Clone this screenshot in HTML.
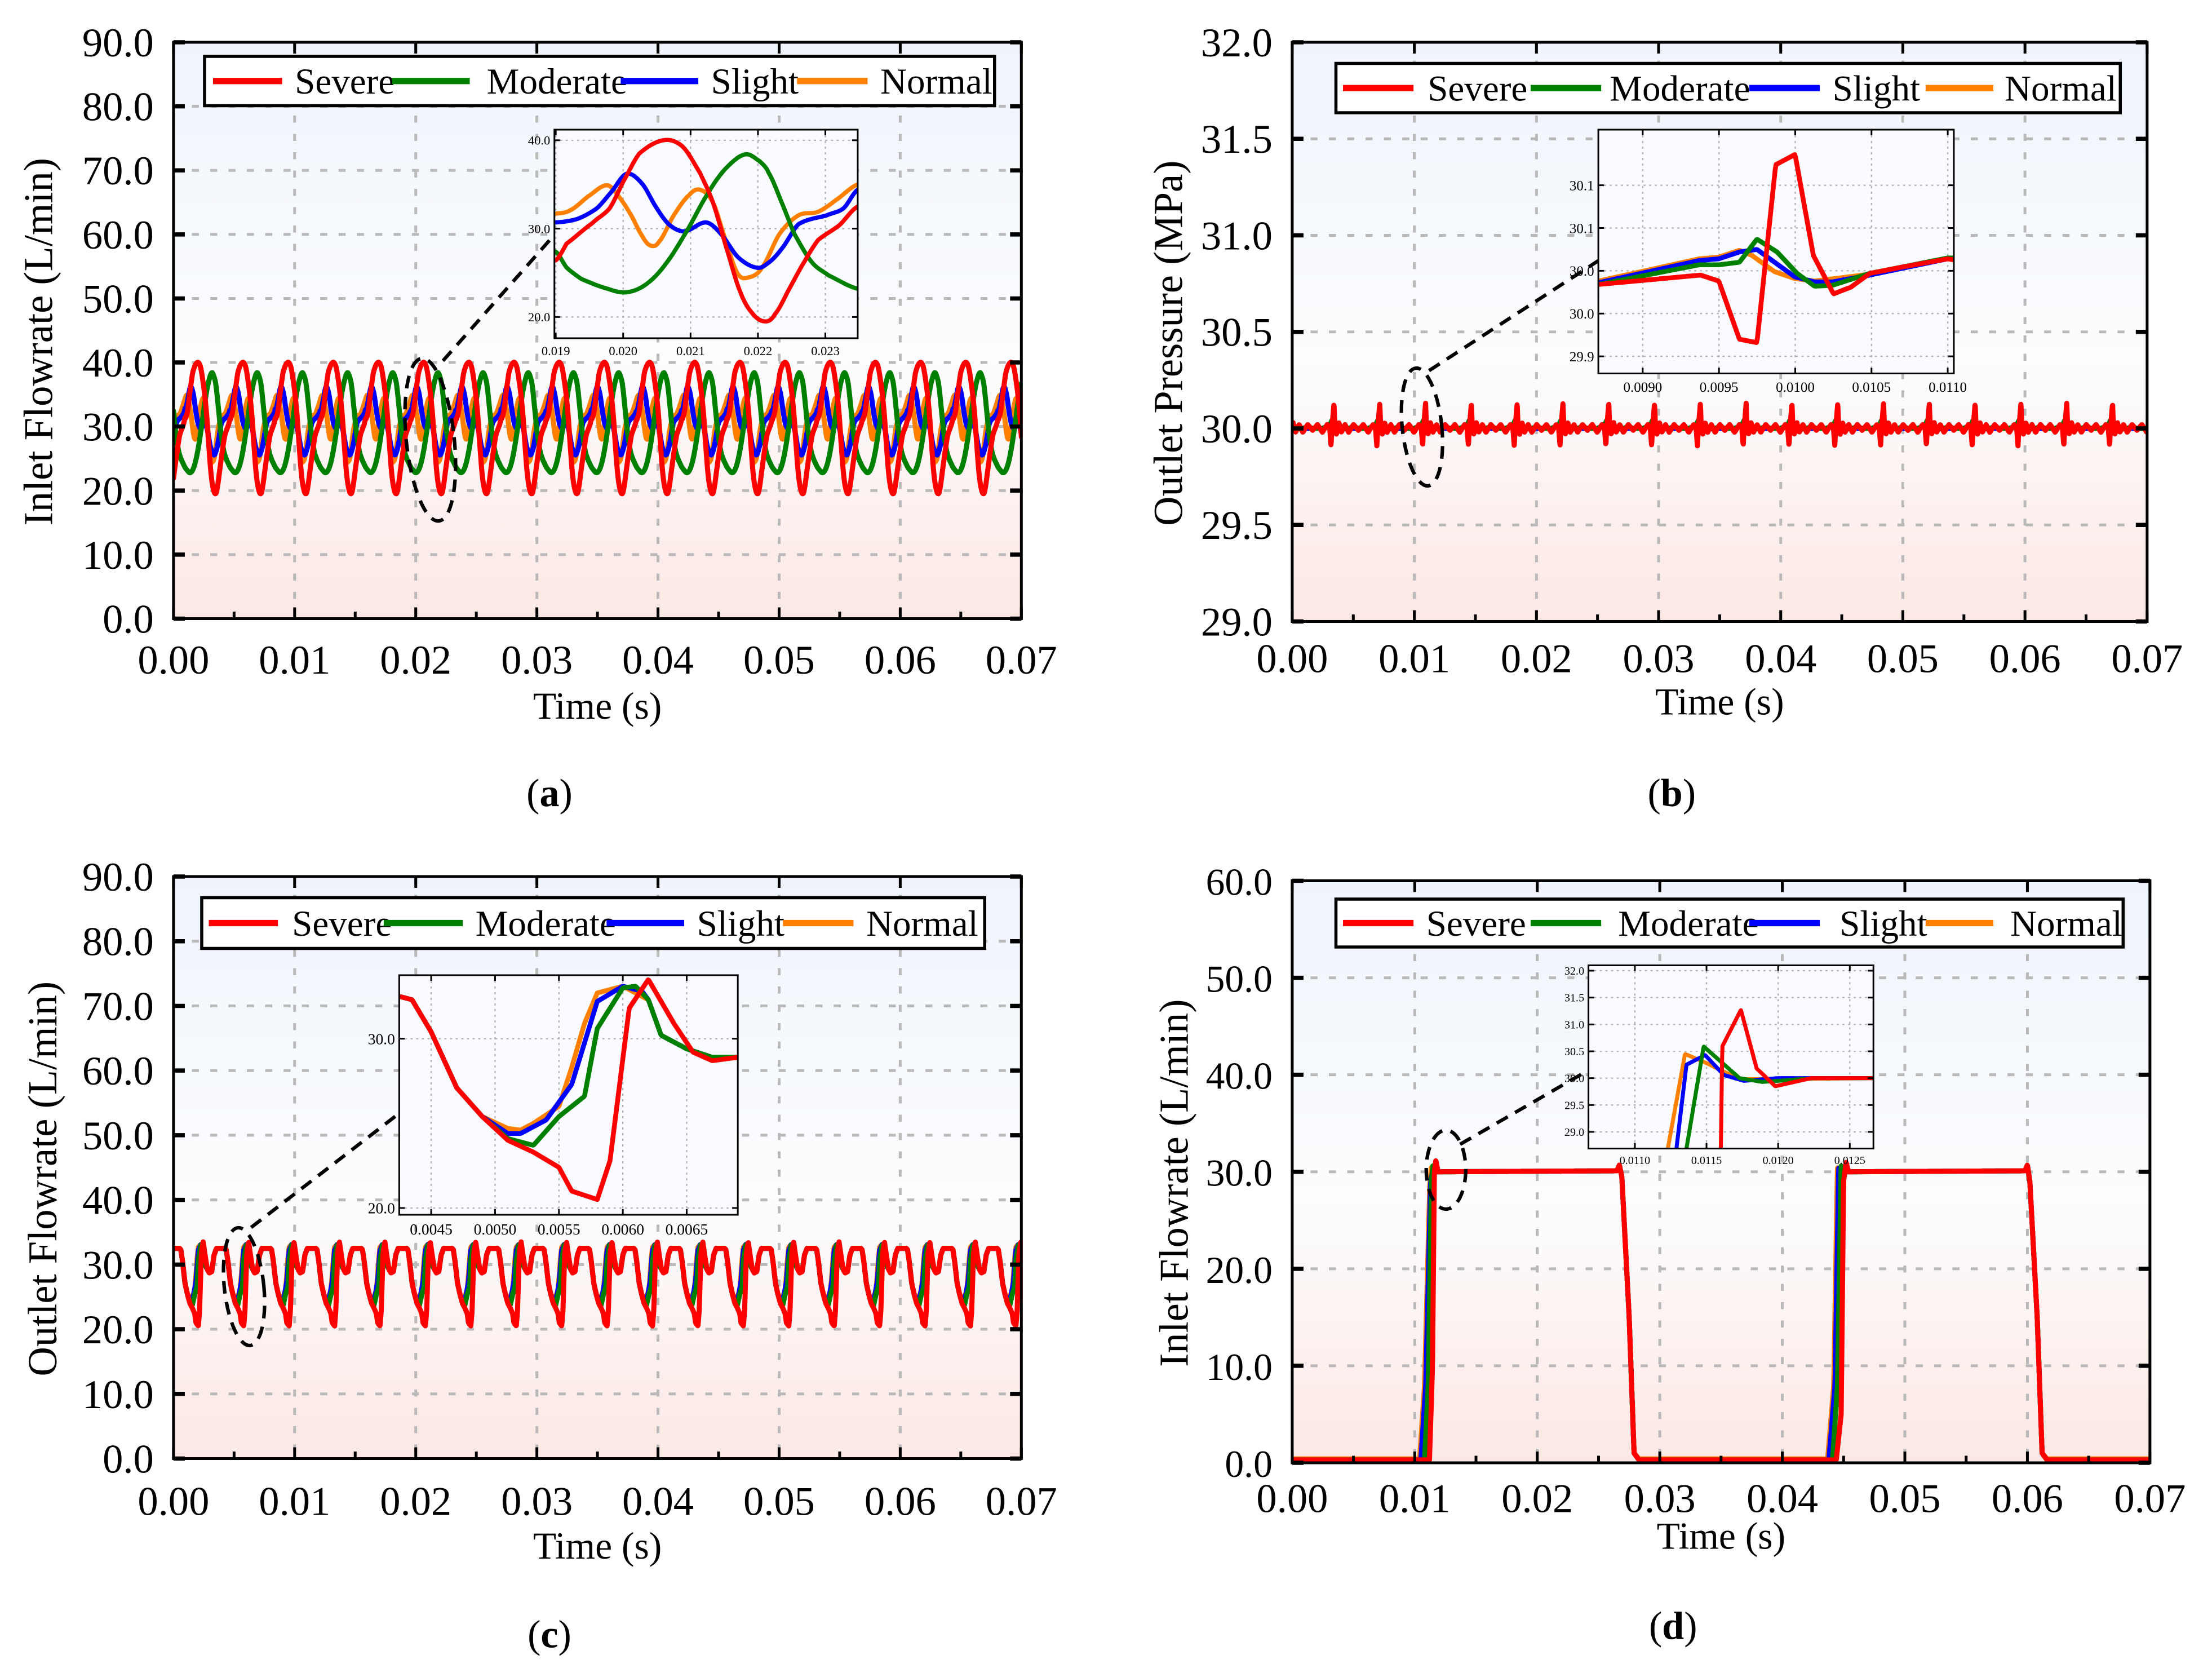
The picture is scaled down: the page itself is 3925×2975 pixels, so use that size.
<!DOCTYPE html>
<html><head><meta charset="utf-8"><title>Hydraulic pump fault signals</title>
<style>
html,body{margin:0;padding:0;background:#fff;}
svg{display:block;font-family:"Liberation Serif","DejaVu Serif",serif;}
</style></head>
<body>
<svg id="fig" xmlns="http://www.w3.org/2000/svg" viewBox="0 0 1568 1190" width="3925" height="2975" preserveAspectRatio="none">
<defs>
<linearGradient id="bgGrad" x1="0" y1="0" x2="0" y2="1">
<stop offset="0" stop-color="#eff4fc"/><stop offset="0.55" stop-color="#fcfdfe"/><stop offset="1" stop-color="#fce7e3"/>
</linearGradient>
</defs>
<rect x="0" y="0" width="1568" height="1190" fill="#ffffff"/>
</svg>
<script>
// ================= DATA =================
const seriesNames=['Severe','Moderate','Slight','Normal'];
const seriesColors=['#ff0000','#008000','#0000ff','#ff8000'];
const timeTicks=[0,0.01,0.02,0.03,0.04,0.05,0.06,0.07];
const timeTickLabels=['0.00','0.01','0.02','0.03','0.04','0.05','0.06','0.07'];
const flowTicks90=[0,10,20,30,40,50,60,70,80,90];
const flowTickLabels90=['0.0','10.0','20.0','30.0','40.0','50.0','60.0','70.0','80.0','90.0'];
const presTicks=[29,29.5,30,30.5,31,31.5,32];
const presTickLabels=['29.0','29.5','30.0','30.5','31.0','31.5','32.0'];
const flowTicks60=[0,10,20,30,40,50,60];
const flowTickLabels60=['0.0','10.0','20.0','30.0','40.0','50.0','60.0'];

// Panel (a)
const aPeriod=0.00373;
const aCycleStart=0.0196;
const aRedT=[0.019,0.01916,0.01954,0.0198,0.0200,0.02024,0.0206,0.02088,0.02114,0.02133,0.02152,0.02174,0.02193,0.02211,0.02225,0.02248,0.0227,0.02289,0.02321,0.02348];
const aRedV=[26.4,28.3,30.6,32.3,35.3,38.5,40,39.3,36.3,33,28.1,22.8,20.3,19.5,20.3,23.4,26.4,28.7,30.4,32.5];
const aGreenT=[0.019,0.01916,0.01938,0.01977,0.02005,0.02034,0.02063,0.02095,0.02126,0.02152,0.02181,0.02203,0.02216,0.02235,0.02254,0.0228,0.02305,0.02348];
const aGreenV=[27.4,25.6,24.3,23.2,22.8,23.7,26,29.8,34,36.8,38.4,37.6,36.3,33,29.4,26.2,24.7,23.2];
const aBlueT=[0.019,0.01932,0.01961,0.01983,0.02005,0.02028,0.0205,0.02069,0.02091,0.02123,0.02145,0.0217,0.02197,0.02213,0.02235,0.0226,0.02302,0.02327,0.02348];
const aBlueV=[30.7,31.1,32.3,34.2,36.2,35.1,32.3,30.4,29.7,30.7,29.4,26.8,25.6,26,27.7,30.5,31.5,32.3,34.4];
const aOrangeT=[0.019,0.01922,0.01951,0.01977,0.01996,0.02012,0.02028,0.0204,0.02053,0.02075,0.02098,0.02114,0.02133,0.02152,0.0217,0.02187,0.02206,0.02232,0.0226,0.02289,0.02315,0.02348];
const aOrangeV=[31.7,32.1,33.8,34.9,33.4,31.5,29.2,28.1,28.5,31.5,33.8,34.4,33,28.7,24.9,24.5,25.6,29.4,31.5,31.9,33.2,35];
const aInsetXTicks=[0.019,0.020,0.021,0.022,0.023];
const aInsetXLabels=['0.019','0.020','0.021','0.022','0.023'];
const aInsetYTicks=[20,30,40];
const aInsetYLabels=['20.0','30.0','40.0'];

// Panel (b)
const bPeriod=0.00375;
const bFirstSpike=0.00342;
const bCycleDt=[0,0.00008,0.0002,0.0004,0.0006,0.0009,0.0012,0.0016,0.002,0.0024,0.0028,0.0032,0.0034,0.00351,0.00357,0.00375];
const bRedCycle=[30.13,30.0,29.97,30.03,29.98,30.02,29.98,30.02,29.99,30.02,29.98,30.02,30.0,29.91,29.99,30.13];
const bGreenCycle=[30.03,30.0,29.98,30.01,29.99,30.0,30.0,30.01,30.0,30.0,30.0,30.01,30.02,30.03,30.04,30.03];
const bBlueCycle=[30.03,30.0,29.98,30.01,29.99,30.0,30.0,30.0,30.0,30.0,30.0,30.01,30.02,30.03,30.04,30.03];
const bOrangeCycle=[30.03,30.0,29.98,30.0,29.99,30.0,30.0,30.0,30.0,30.0,30.0,30.01,30.02,30.03,30.04,30.03];
const bInsetRedT=[0.008709,0.009379,0.009499,0.009634,0.009749,0.009872,0.009999,0.010119,0.010251,0.010366,0.010489,0.01072,0.0110,0.011033];
const bInsetRedV=[30.034,30.045,30.038,29.970,29.966,30.174,30.186,30.068,30.023,30.031,30.047,30.055,30.064,30.063];
const bInsetGreenT=[0.008709,0.00937,0.009499,0.009634,0.009749,0.009881,0.010012,0.010127,0.010243,0.010489,0.0110];
const bInsetGreenV=[30.034,30.057,30.057,30.060,30.087,30.072,30.047,30.032,30.033,30.047,30.065];
const bInsetBlueT=[0.008709,0.00937,0.009499,0.009634,0.009749,0.009996,0.010127,0.010243,0.010489,0.0110];
const bInsetBlueV=[30.036,30.062,30.064,30.072,30.075,30.043,30.037,30.037,30.045,30.064];
const bInsetOrangeT=[0.008709,0.00937,0.009499,0.009634,0.009716,0.009864,0.009996,0.010127,0.010489,0.0110];
const bInsetOrangeV=[30.038,30.064,30.066,30.074,30.068,30.049,30.041,30.038,30.046,30.064];
const bInsetXTicks=[0.0090,0.0095,0.0100,0.0105,0.0110];
const bInsetXLabels=['0.0090','0.0095','0.0100','0.0105','0.0110'];
const bInsetYTicks=[29.95,30.0,30.05,30.1,30.15];
const bInsetYLabels=['29.9','30.0','30.0','30.1','30.1'];

// Panel (c)
const cPeriod=0.00375;
const cFirstPeak=0.00245;
const cRedDt=[0,0.0002,0.00035,0.0005,0.0007,0.0009,0.0011,0.0018,0.0019,0.00205,0.00225,0.00245,0.00265,0.00285,0.00305,0.00315,0.00335,0.00345,0.0036,0.00375];
const cRedV=[33.5,30.9,29.2,28.7,28.9,31.5,32.5,32.5,32.3,30.4,27.1,25.4,24,23.3,22.4,21,20.5,22.8,31.8,33.5];
const cGreenDt=[0,0.0001,0.0003,0.0005,0.0007,0.0009,0.0011,0.0018,0.0019,0.00205,0.00225,0.00245,0.00265,0.00285,0.00305,0.00325,0.00335,0.00355,0.00365,0.00375];
const cGreenV=[32.3,30.2,29.4,28.9,28.9,31.5,32.5,32.5,32.3,30.4,27.1,25.4,24.1,23.7,25.4,26.6,30.6,33,33.1,32.3];
const cBlueDt=[0,0.0001,0.0003,0.0005,0.0007,0.0009,0.0011,0.0018,0.0019,0.00205,0.00225,0.00245,0.00265,0.00275,0.00295,0.00315,0.00335,0.00355,0.0037,0.00375];
const cBlueV=[32.3,30.2,29.4,28.9,28.9,31.5,32.5,32.5,32.3,30.4,27.1,25.4,24.4,24.4,25.2,27.3,32.2,33.1,32.8,32.3];
const cOrangeDt=[0,0.0001,0.0003,0.0005,0.0007,0.0009,0.0011,0.0018,0.0019,0.00205,0.00225,0.00245,0.00265,0.00275,0.00285,0.00305,0.00315,0.00325,0.00335,0.00355,0.00375];
const cOrangeV=[32.3,30.2,29.4,28.9,28.9,31.5,32.5,32.5,32.3,30.4,27.1,25.4,24.7,24.6,25,26,28.3,30.9,32.7,33.1,32.3];
const cInsetXTicks=[0.0045,0.0050,0.0055,0.0060,0.0065];
const cInsetXLabels=['0.0045','0.0050','0.0055','0.0060','0.0065'];
const cInsetYTicks=[20,30];
const cInsetYLabels=['20.0','30.0'];

// Panel (d)
const dRedT=[0,0.0112,0.01145,0.0116,0.01172,0.0119,0.0265,0.0267,0.0269,0.0275,0.0279,0.0283,0.0444,0.0448,0.0450,0.0452,0.0454,0.0598,0.0600,0.0602,0.0608,0.0612,0.0616,0.07];
const dRedV=[0.3,0.3,10,30,31.2,30,30.1,30.7,29.5,15,1,0.3,0.3,5,29,31,30,30.1,30.7,29,15,1,0.3,0.3];
const dGreenT=[0,0.0108,0.0111,0.01136,0.01148,0.0117,0.0265,0.0267,0.0269,0.0275,0.0279,0.0283,0.0441,0.0445,0.0448,0.0450,0.0598,0.0600,0.0602,0.0608,0.0612,0.0616,0.07];
const dGreenV=[0.3,0.3,8,28.7,30.6,30,30.1,30.7,29.5,15,1,0.3,0.3,8,30.6,30,30.1,30.7,29,15,1,0.3,0.3];
const dBlueT=[0,0.0105,0.0109,0.01129,0.01149,0.0117,0.0265,0.0267,0.0269,0.0275,0.0279,0.0283,0.0438,0.0443,0.0446,0.0448,0.0598,0.0600,0.0602,0.0608,0.0612,0.0616,0.07];
const dBlueV=[0.3,0.3,8,28.7,30.4,30,30.1,30.7,29.5,15,1,0.3,0.3,8,30.4,30,30.1,30.7,29,15,1,0.3,0.3];
const dOrangeT=[0,0.0104,0.0108,0.01123,0.01135,0.0117,0.0265,0.0267,0.0269,0.0275,0.0279,0.0283,0.0437,0.0442,0.0445,0.0447,0.0598,0.0600,0.0602,0.0608,0.0612,0.0616,0.07];
const dOrangeV=[0.4,0.4,8,28.7,30.45,30,30.1,30.7,29.5,15,1,0.4,0.4,8,30.45,30,30.1,30.7,29,15,1,0.4,0.4];
const dInsetRedT=[0.01159,0.0116,0.01161,0.01174,0.01185,0.01198,0.01223,0.01268];
const dInsetRedV=[27,28.69,30.59,31.27,30.18,29.85,30.0,30.0];
const dInsetGreenT=[0.01132,0.01136,0.01148,0.01173,0.01189,0.01226,0.01268];
const dInsetGreenV=[27,28.69,30.59,30.0,29.93,30.0,30.0];
const dInsetBlueT=[0.01126,0.01129,0.01136,0.01149,0.01162,0.01176,0.012,0.01268];
const dInsetBlueV=[27,28.69,30.25,30.43,30.06,29.95,30.0,30.0];
const dInsetOrangeT=[0.01119,0.01123,0.01135,0.0115,0.01173,0.01194,0.01268];
const dInsetOrangeV=[27,28.69,30.45,30.28,29.98,29.98,30.0];
const dInsetXTicks=[0.0110,0.0115,0.0120,0.0125];
const dInsetXLabels=['0.0110','0.0115','0.0120','0.0125'];
const dInsetYTicks=[29.0,29.5,30.0,30.5,31.0,31.5,32.0];
const dInsetYLabels=['29.0','29.5','30.0','30.5','31.0','31.5','32.0'];

// ================= HELPERS =================
const NS='http://www.w3.org/2000/svg';
const svg=document.getElementById('fig');
function E(tag,parent,at){const e=document.createElementNS(NS,tag);if(at){for(const k in at)e.setAttribute(k,at[k]);}parent.appendChild(e);return e;}
function lin(ts,vs,t){if(t<=ts[0])return vs[0];for(let i=1;i<ts.length;i++){if(t<=ts[i]){const f=(t-ts[i-1])/(ts[i]-ts[i-1]);return vs[i-1]+f*(vs[i]-vs[i-1]);}}return vs[vs.length-1];}
function cr(ts,vs,t){
  if(t<=ts[0])return vs[0];if(t>=ts[ts.length-1])return vs[vs.length-1];
  let i=1;while(ts[i]<t)i++;
  const t1=ts[i-1],t2=ts[i],f=(t-t1)/(t2-t1);
  const p0=vs[Math.max(0,i-2)],p1=vs[i-1],p2=vs[i],p3=vs[Math.min(vs.length-1,i+1)];
  return 0.5*((2*p1)+(-p0+p2)*f+(2*p0-5*p1+4*p2-p3)*f*f+(-p0+3*p1-3*p2+p3)*f*f*f);
}
function mod(a,b){return ((a%b)+b)%b;}
let clipN=0;
function scale(L){return {x:t=>L.x0+(t-L.xmin)/(L.xmax-L.xmin)*(L.x1-L.x0), y:v=>L.yb-(v-L.ymin)/(L.ymax-L.ymin)*(L.yb-L.yt)};}
function clipFor(L){const id='clip'+(clipN++);const cp=E('clipPath',svg.querySelector('defs'),{id:id});E('rect',cp,{x:L.x0,y:L.yt,width:L.x1-L.x0,height:L.yb-L.yt});return id;}
function drawSeries(parent,L,fn,tmin,tmax,n,color,width,name){
  const S=scale(L);let pts=[];
  for(let i=0;i<=n;i++){const t=tmin+(tmax-tmin)*i/n;pts.push(S.x(t).toFixed(2)+','+S.y(fn(t)).toFixed(2));}
  const pl=E('polyline',parent,{points:pts.join(' '),fill:'none',stroke:color,'stroke-width':width,'stroke-linejoin':'round','stroke-linecap':'round'});
  
  
  return pl;
}
function mainPanel(id,L,yTicks,yLabels,yTitle,off){
  const S=scale(L);
  const g=E('g',svg);
  
  
  const bg=E('rect',g,{x:L.x0,y:L.yt,width:L.x1-L.x0,height:L.yb-L.yt,fill:'url(#bgGrad)'});
  
  
  const grid=E('g',g,{stroke:'#b9b9b9','stroke-width':2,'stroke-dasharray':'5 8'});
  
  
  timeTicks.forEach((t,i)=>{if(i>0&&i<timeTicks.length-1)E('line',grid,{x1:S.x(t),x2:S.x(t),y1:L.yt,y2:L.yb});});
  yTicks.forEach((v,i)=>{if(i>0&&i<yTicks.length-1)E('line',grid,{x1:L.x0,x2:L.x1,y1:S.y(v),y2:S.y(v)});});
  const series=E('g',g,{'clip-path':'url(#'+clipFor(L)+')'});
  
  
  const axes=E('g',g);
  
  
  timeTicks.forEach((t,i)=>{
    const tx=E('text',axes,{x:S.x(t),y:L.yb+off.xl,'font-size':29,'text-anchor':'middle',fill:'#000'});tx.textContent=timeTickLabels[i];
    
    
  });
  yTicks.forEach((v,i)=>{
    const tx=E('text',axes,{x:L.x0-14,y:S.y(v)+10,'font-size':off.yfs||29,'text-anchor':'end',fill:'#000'});tx.textContent=yLabels[i];
    
    
  });
  const xt=E('text',axes,{x:(L.x0+L.x1)/2,y:L.yb+off.xt,'font-size':27,'text-anchor':'middle'});xt.textContent='Time (s)';
  
  
  const cy=(L.yt+L.yb)/2+8;
  const yt=E('text',axes,{x:L.x0-off.yt,y:cy,'font-size':29,'text-anchor':'middle',transform:'rotate(-90 '+(L.x0-off.yt)+' '+cy+')'});yt.textContent=yTitle;
  
  
  const lt=E('text',axes,{x:(L.x0+L.x1)/2-34,y:L.yb+off.lt,'font-size':28,'text-anchor':'middle'});
  lt.innerHTML='(<tspan font-weight="bold">'+id+'</tspan>)';
  
  
  return {g,series,axes,S,finish:()=>{
    const fr=E('g',g,{stroke:'#000','stroke-width':2});
    
    
    E('rect',fr,{x:L.x0,y:L.yt,width:L.x1-L.x0,height:L.yb-L.yt,fill:'none'});
    timeTicks.forEach(t=>{E('line',fr,{x1:S.x(t),x2:S.x(t),y1:L.yb,y2:L.yb-8});E('line',fr,{x1:S.x(t),x2:S.x(t),y1:L.yt,y2:L.yt+8});});
    for(let i=0;i<timeTicks.length-1;i++){const m=(timeTicks[i]+timeTicks[i+1])/2;E('line',fr,{x1:S.x(m),x2:S.x(m),y1:L.yb,y2:L.yb-5});}
    yTicks.forEach(v=>{E('line',fr,{x1:L.x0,x2:L.x0+8,y1:S.y(v),y2:S.y(v),'stroke-width':3});E('line',fr,{x1:L.x1,x2:L.x1-8,y1:S.y(v),y2:S.y(v),'stroke-width':3});});
  }};
}
function legend(parent,id,box,items){
  const g=E('g',parent);
  
  
  E('rect',g,{x:box[0],y:box[1],width:box[2]-box[0],height:box[3]-box[1],fill:'#fff',stroke:'#000','stroke-width':2.2});
  const cy=(box[1]+box[3])/2;
  items.forEach((it,i)=>{
    const e=E('g',g);
    
    
    E('line',e,{x1:it[0],x2:it[1],y1:cy,y2:cy,stroke:seriesColors[i],'stroke-width':4.5});
    const tx=E('text',e,{x:it[2],y:cy+9,'font-size':26});tx.textContent=seriesNames[i];
  });
}
function inset(parent,id,L,xT,xL,yT,yL,fs){
  const S=scale(L);
  const g=E('g',parent);
  
  
  E('rect',g,{x:L.x0,y:L.yt,width:L.x1-L.x0,height:L.yb-L.yt,fill:'#f9fbfe'});
  const gr=E('g',g,{stroke:'#b0b0b0','stroke-width':0.9,'stroke-dasharray':'1.5 2.5'});
  xT.forEach(t=>E('line',gr,{x1:S.x(t),x2:S.x(t),y1:L.yt,y2:L.yb}));
  yT.forEach(v=>E('line',gr,{x1:L.x0,x2:L.x1,y1:S.y(v),y2:S.y(v)}));
  const ser=E('g',g,{'clip-path':'url(#'+clipFor(L)+')'});
  const lab=E('g',g,{'font-size':fs});
  xT.forEach((t,i)=>{const tx=E('text',lab,{x:S.x(t),y:L.yb+fs+3,'text-anchor':'middle'});tx.textContent=xL[i];});
  yT.forEach((v,i)=>{const tx=E('text',lab,{x:L.x0-3,y:S.y(v)+fs*0.35,'text-anchor':'end'});tx.textContent=yL[i];});
  return {S,ser,finish:()=>{
    const fr=E('g',g,{stroke:'#000','stroke-width':1.2});
    E('rect',fr,{x:L.x0,y:L.yt,width:L.x1-L.x0,height:L.yb-L.yt,fill:'none'});
    xT.forEach(t=>{E('line',fr,{x1:S.x(t),x2:S.x(t),y1:L.yb,y2:L.yb-4});E('line',fr,{x1:S.x(t),x2:S.x(t),y1:L.yt,y2:L.yt+4});});
    yT.forEach(v=>{E('line',fr,{x1:L.x0,x2:L.x0+4,y1:S.y(v),y2:S.y(v)});E('line',fr,{x1:L.x1,x2:L.x1-4,y1:S.y(v),y2:S.y(v)});});
  }};
}
function callout(parent,id,ell,line){
  const g=E('g',parent,{fill:'none',stroke:'#000','stroke-width':2.5,'stroke-dasharray':'9 6'});
  
  
  E('ellipse',g,{cx:ell[0],cy:ell[1],rx:ell[2],ry:ell[3],transform:'rotate('+ell[4]+' '+ell[0]+' '+ell[1]+')'});
  E('line',g,{x1:line[0],y1:line[1],x2:line[2],y2:line[3]});
}
const MW=3.6;

// ================= PANEL A =================
(function(){
  const L={x0:123,x1:724,yb:439,yt:30,xmin:0,xmax:0.07,ymin:0,ymax:90};
  const P=mainPanel('a',L,flowTicks90,flowTickLabels90,'Inlet Flowrate (L/min)',{xl:39,xt:71,lt:133,yt:86});
  const sets=[[aRedT,aRedV],[aGreenT,aGreenV],[aBlueT,aBlueV],[aOrangeT,aOrangeV]];
  const order=[3,2,1,0];
  order.forEach(i=>{const [T,V]=sets[i];drawSeries(P.series,L,t=>cr(T,V,aCycleStart+mod(t-aCycleStart,aPeriod)),0,0.07,1400,seriesColors[i],MW,'line-'+seriesNames[i].toLowerCase());});
  P.finish();
  legend(P.g,'a',[145,40,705,75],[[151,200,209],[278,333,345],[440,495,504],[565,615,624]]);
  callout(P.g,'a',[305,312,17,58,-6],[314,256,390,170]);
  const IL={x0:393,x1:608,yt:92,yb:240,xmin:0.01898,xmax:0.02348,ymin:17.6,ymax:41.2};
  const I=inset(P.g,'a',IL,aInsetXTicks,aInsetXLabels,aInsetYTicks,aInsetYLabels,9);
  order.forEach(i=>{const [T,V]=sets[i];drawSeries(I.ser,IL,t=>cr(T,V,t),0.01898,0.02348,300,seriesColors[i],3,'inset-line-'+seriesNames[i].toLowerCase());});
  I.finish();
})();

// ================= PANEL B =================
(function(){
  const L={x0:916,x1:1522,yb:441,yt:30,xmin:0,xmax:0.07,ymin:29,ymax:32};
  const P=mainPanel('b',L,presTicks,presTickLabels,'Outlet Pressure (MPa)',{xl:36,xt:66,lt:131,yt:78});
  const cyc=[bRedCycle,bGreenCycle,bBlueCycle,bOrangeCycle];
  [3,2,1,0].forEach(i=>{drawSeries(P.series,L,t=>lin(bCycleDt,cyc[i],mod(t-bFirstSpike,bPeriod)),0,0.07,3000,seriesColors[i],MW,'line-'+seriesNames[i].toLowerCase());});
  P.finish();
  legend(P.g,'b',[947,45,1503,80],[[952,1002,1012],[1085,1135,1141],[1240,1290,1299],[1365,1413,1421]]);
  callout(P.g,'b',[1008,303,14,42,-6],[1013,263,1133,185]);
  const IL={x0:1133,x1:1385,yt:92,yb:265,xmin:0.008709,xmax:0.01104,ymin:29.93,ymax:30.215};
  const I=inset(P.g,'b',IL,bInsetXTicks,bInsetXLabels,bInsetYTicks,bInsetYLabels,10);
  const sets=[[bInsetRedT,bInsetRedV],[bInsetGreenT,bInsetGreenV],[bInsetBlueT,bInsetBlueV],[bInsetOrangeT,bInsetOrangeV]];
  [3,2,1,0].forEach(i=>{const [T,V]=sets[i];drawSeries(I.ser,IL,t=>lin(T,V,t),IL.xmin,IL.xmax,400,seriesColors[i],3.4,'inset-line-'+seriesNames[i].toLowerCase());});
  I.finish();
})();

// ================= PANEL C =================
(function(){
  const L={x0:123,x1:724,yb:1035,yt:622,xmin:0,xmax:0.07,ymin:0,ymax:90};
  const P=mainPanel('c',L,flowTicks90,flowTickLabels90,'Outlet Flowrate (L/min)',{xl:40,xt:71,lt:134,yt:83});
  const sets=[[cRedDt,cRedV],[cGreenDt,cGreenV],[cBlueDt,cBlueV],[cOrangeDt,cOrangeV]];
  [3,2,1,0].forEach(i=>{const [T,V]=sets[i];drawSeries(P.series,L,t=>lin(T,V,mod(t-cFirstPeak,cPeriod)),0,0.07,3000,seriesColors[i],MW,'line-'+seriesNames[i].toLowerCase());});
  P.finish();
  legend(P.g,'c',[143,637,698,673],[[148,197,207],[272,328,337],[430,485,494],[555,605,614]]);
  callout(P.g,'c',[173,913,14,42,-6],[178,871,283,790]);
  const IL={x0:283,x1:523,yt:692,yb:862,xmin:0.00425,xmax:0.0069,ymin:19.6,ymax:33.75};
  const I=inset(P.g,'c',IL,cInsetXTicks,cInsetXLabels,cInsetYTicks,cInsetYLabels,11);
  [3,2,1,0].forEach(i=>{const [T,V]=sets[i];drawSeries(I.ser,IL,t=>lin(T,V,mod(t-cFirstPeak,cPeriod)),IL.xmin,IL.xmax,400,seriesColors[i],3.4,'inset-line-'+seriesNames[i].toLowerCase());});
  I.finish();
})();

// ================= PANEL D =================
(function(){
  const L={x0:916,x1:1524,yb:1038,yt:625,xmin:0,xmax:0.07,ymin:0,ymax:60};
  const P=mainPanel('d',L,flowTicks60,flowTickLabels60,'Inlet Flowrate (L/min)',{xl:35,xt:61,lt:125,yt:74,yfs:27});
  const sets=[[dRedT,dRedV],[dGreenT,dGreenV],[dBlueT,dBlueV],[dOrangeT,dOrangeV]];
  [3,2,1,0].forEach(i=>{const [T,V]=sets[i];drawSeries(P.series,L,t=>lin(T,V,t),0,0.07,3000,seriesColors[i],MW,'line-'+seriesNames[i].toLowerCase());});
  P.finish();
  legend(P.g,'d',[947,638,1505,672],[[952,1002,1011],[1085,1135,1147],[1240,1290,1304],[1365,1413,1425]]);
  callout(P.g,'d',[1025,830,14,28,0],[1035,812,1125,760]);
  const IL={x0:1126,x1:1328,yt:685,yb:815,xmin:0.010676,xmax:0.012665,ymin:28.69,ymax:32.1};
  const I=inset(P.g,'d',IL,dInsetXTicks,dInsetXLabels,dInsetYTicks,dInsetYLabels,8);
  const isets=[[dInsetRedT,dInsetRedV],[dInsetGreenT,dInsetGreenV],[dInsetBlueT,dInsetBlueV],[dInsetOrangeT,dInsetOrangeV]];
  [3,2,1,0].forEach(i=>{const [T,V]=isets[i];drawSeries(I.ser,IL,t=>lin(T,V,t),T[0],IL.xmax,400,seriesColors[i],2.8,'inset-line-'+seriesNames[i].toLowerCase());});
  I.finish();
})();
</script>
</body></html>
